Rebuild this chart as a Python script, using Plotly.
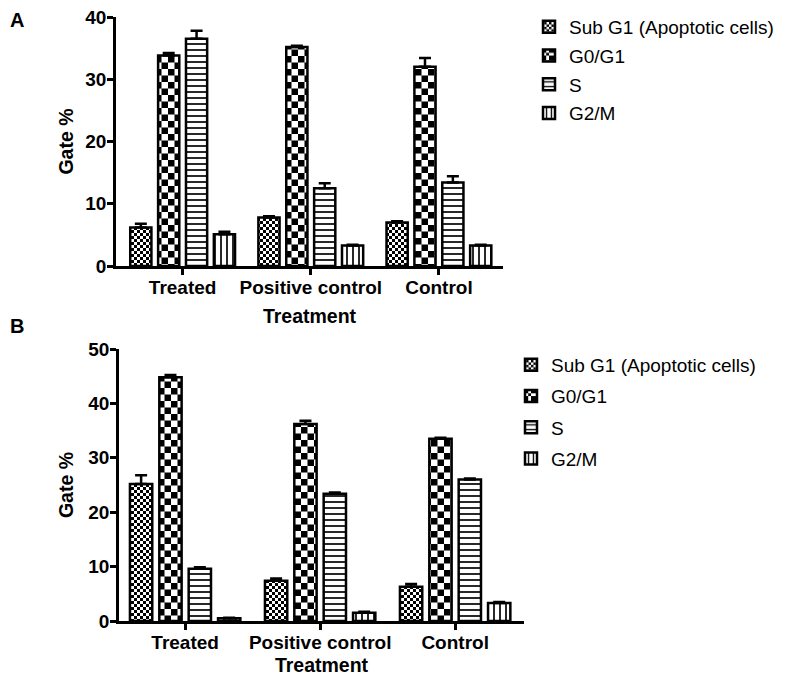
import plotly.graph_objects as go

# ---------------- data ----------------
categories = ["Treated", "Positive control", "Control"]
series_names = ["Sub G1 (Apoptotic cells)", "G0/G1", "S", "G2/M"]

# Panel A
a_subg1 = [6.2, 7.8, 7.0]
a_subg1_err = [0.6, 0.2, 0.2]
a_g0g1 = [33.8, 35.2, 32.0]
a_g0g1_err = [0.4, 0.2, 1.4]
a_s = [36.5, 12.5, 13.4]
a_s_err = [1.3, 0.8, 1.0]
a_g2m = [5.1, 3.3, 3.3]
a_g2m_err = [0.4, 0.1, 0.1]

# Panel B
b_subg1 = [25.2, 7.4, 6.3]
b_subg1_err = [1.6, 0.4, 0.5]
b_g0g1 = [44.8, 36.2, 33.5]
b_g0g1_err = [0.4, 0.6, 0.2]
b_s = [9.6, 23.4, 26.0]
b_s_err = [0.3, 0.2, 0.2]
b_g2m = [0.5, 1.5, 3.3]
b_g2m_err = [0.1, 0.2, 0.2]

y_ticks_a = [0, 10, 20, 30, 40]
y_ticks_b = [0, 10, 20, 30, 40, 50]

# the page body has an 8px margin, so the figure is drawn 8px in from the window edge
OFF = 8
W, H = 787 - OFF, 676 - OFF
FONT = "Liberation Sans, Arial, Helvetica, sans-serif"


def px_x(v):
    return (v - OFF) / W


def px_y(v):
    return 1 - (v - OFF) / H


def checker(s):
    h = s / 2
    return f"M0,0H{h}V{h}H0Z M{h},{h}H{s}V{s}H{h}Z"


def make_patterns():
    try:
        p1 = go.bar.marker.Pattern(path=checker(6), size=6, fgcolor="black",
                                   bgcolor="white", fillmode="replace")
        p2 = go.bar.marker.Pattern(path=checker(13), size=13, fgcolor="black",
                                   bgcolor="white", fillmode="replace")
    except Exception:
        p1 = go.bar.marker.Pattern(shape="x", size=5, solidity=0.5, fgcolor="black",
                                   bgcolor="white", fillmode="replace")
        p2 = go.bar.marker.Pattern(shape=".", size=12, solidity=0.35, fgcolor="black",
                                   bgcolor="white", fillmode="replace")
    p3 = go.bar.marker.Pattern(shape="-", size=6, solidity=0.28, fgcolor="black",
                               bgcolor="white", fillmode="replace")
    p4 = go.bar.marker.Pattern(shape="|", size=6, solidity=0.28, fgcolor="black",
                               bgcolor="white", fillmode="replace")
    return [p1, p2, p3, p4]


patterns = make_patterns()

fig = go.Figure()

panels = [
    ("x", "y", "legend", [a_subg1, a_g0g1, a_s, a_g2m],
     [a_subg1_err, a_g0g1_err, a_s_err, a_g2m_err]),
    ("x2", "y2", "legend2", [b_subg1, b_g0g1, b_s, b_g2m],
     [b_subg1_err, b_g0g1_err, b_s_err, b_g2m_err]),
]

for pi, (xa, ya, leg, vals, errs) in enumerate(panels):
    for si, name in enumerate(series_names):
        fig.add_trace(go.Bar(
            x=categories, y=vals[si], name=name,
            xaxis=xa, yaxis=ya, legend=leg,
            legendgroup=f"p{pi}s{si}",
            marker=dict(color="white", pattern=patterns[si],
                        line=dict(color="black", width=2.5)),
            error_y=dict(type="data", array=errs[si], arrayminus=[0] * len(errs[si]),
                         symmetric=False, color="black", thickness=2.5, width=6),
        ))

axis_common = dict(showline=True, linecolor="black", linewidth=2.5, ticks="outside",
                   ticklen=6, tickwidth=2.5, tickcolor="black", showgrid=False,
                   zeroline=False, mirror=False, automargin=False)

tick_x = dict(family=FONT, size=19, color="black", weight="bold")
tick_y = dict(family=FONT, size=19, color="black", weight="bold")
title_f = dict(family=FONT, size=19.5, color="black", weight="bold")

fig.update_layout(
    width=W, height=H,
    margin=dict(l=0, r=0, t=0, b=0),
    paper_bgcolor="white", plot_bgcolor="white",
    barmode="group", bargap=0.13, bargroupgap=0.24,
    font=dict(family=FONT, color="black"),
    xaxis=dict(domain=[px_x(116), px_x(503)], anchor="y", range=[-0.52, 2.5],
               tickfont=tick_x, title=dict(text="Treatment", font=title_f, standoff=13),
               **axis_common),
    yaxis=dict(domain=[px_y(266), px_y(17)], anchor="x", range=[0, 40],
               tickvals=y_ticks_a, tickfont=tick_y, ticklabeloverflow="allow",
               title=dict(text="Gate %", font=title_f, standoff=7), **axis_common),
    xaxis2=dict(domain=[px_x(119), px_x(524)], anchor="y2", range=[-0.49, 2.51],
                tickfont=tick_x, title=dict(text="Treatment", font=title_f, standoff=10),
                **axis_common),
    yaxis2=dict(domain=[px_y(621), px_y(349)], anchor="x2", range=[0, 50],
                tickvals=y_ticks_b, tickfont=tick_y, ticklabeloverflow="allow",
                title=dict(text="Gate %", font=title_f, standoff=10), **axis_common),
    legend=dict(x=521 / W, y=1.0, xanchor="left", yanchor="top",
                font=dict(family=FONT, size=19, color="black"),
                tracegroupgap=1, bgcolor="rgba(0,0,0,0)"),
    legend2=dict(x=503 / W, y=1 - 338 / H, xanchor="left", yanchor="top",
                 font=dict(family=FONT, size=19, color="black"),
                 tracegroupgap=3.5, bgcolor="rgba(0,0,0,0)"),
    annotations=[
        dict(text="A", x=0, y=px_y(20), xref="paper", yref="paper",
             xanchor="left", yanchor="middle", showarrow=False,
             font=dict(family=FONT, size=20, color="black", weight="bold")),
        dict(text="B", x=0, y=px_y(326), xref="paper", yref="paper",
             xanchor="left", yanchor="middle", showarrow=False,
             font=dict(family=FONT, size=20, color="black", weight="bold")),
    ],
)

try:
    fig.update_xaxes(ticklabelstandoff=-4)
    fig.update_yaxes(ticklabelstandoff=-3)
except Exception:
    pass

fig.write_html("out.html")
